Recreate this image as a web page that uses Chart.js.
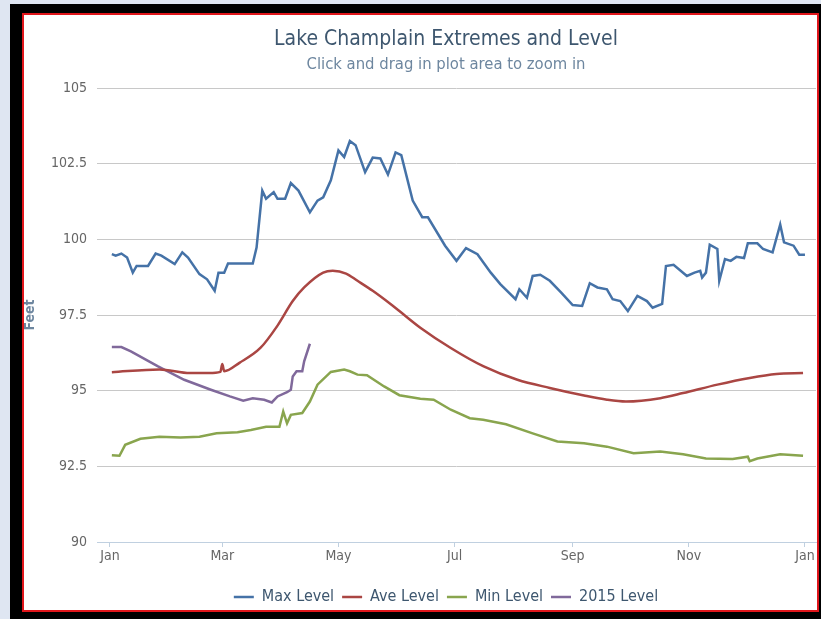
<!DOCTYPE html>
<html lang="en">
<head>
<meta charset="UTF-8">
<title>Lake Champlain Extremes and Level</title>
<style>
    body{
        margin: 0;
        background: #dfe6f2;
        width: 821px;
        height: 619px;
        overflow: hidden;
    }
    #frame{
        position: absolute;
        left: 10px; top: 4px;
        width: 811px; height: 615px;
        background: #000;
    }
    #box{
        position: absolute;
        left: 22px; top: 13px;
        width: 797px; height: 599px;
        box-sizing: border-box;
        border: 2px solid #e0161b;
        background: #fff;
    }
    #holder{
        position: absolute;
        left: 24px; top: 15px;
        width: 844px; height: 600px;
    }
</style>
</head>
<body>
<div id="frame"></div>
<div id="box"></div>
<div id="holder"><canvas id="lakeChart" width="844" height="600"></canvas></div>

<script src="https://cdn.jsdelivr.net/npm/chart.js"></script>
<script>
// day of year -> level (feet)
var maxDays = [1,3,6,9,12,14,20,24,27,34,38,41,47,51,55,57,60,62,75,77,80,82,86,88,92,95,99,105,109,112,116,120,123,126,129,134,138,142,146,150,153,159,164,167,176,182,187,193,200,205,213,215,219,222,226,231,237,243,248,252,256,261,264,268,272,277,282,285,290,292,296,303,307,310,311,313,315,319,320,323,326,329,333,335,340,343,348,352,354,359,362,365];
var maxVals = [99.51,99.46,99.53,99.40,98.90,99.12,99.12,99.53,99.46,99.18,99.57,99.40,98.85,98.68,98.30,98.90,98.90,99.20,99.20,99.73,101.61,101.34,101.56,101.34,101.34,101.86,101.61,100.89,101.28,101.39,101.95,102.94,102.72,103.25,103.11,102.22,102.70,102.67,102.14,102.87,102.78,101.28,100.73,100.73,99.79,99.29,99.71,99.51,98.90,98.52,98.02,98.35,98.07,98.79,98.83,98.63,98.24,97.83,97.80,98.55,98.41,98.35,98.02,97.96,97.63,98.13,97.96,97.74,97.87,99.12,99.16,98.79,98.90,98.96,98.74,98.90,99.82,99.68,98.63,99.35,99.29,99.42,99.38,99.87,99.87,99.68,99.57,100.49,99.90,99.79,99.49,99.49];

var aveDays = [1,26,42,52,58,59,60,68,79,88,96,102,112,117,124,130,138,147,152,163,179,196,214,231,249,261,271,289,301,319,336,350,364];
var aveVals = [95.61,95.70,95.58,95.58,95.62,95.88,95.64,95.92,96.41,97.15,97.96,98.41,98.90,98.96,98.87,98.63,98.30,97.88,97.63,97.08,96.41,95.81,95.36,95.09,94.84,94.70,94.64,94.75,94.92,95.20,95.42,95.55,95.58];

var minDays = [1,5,8,16,26,37,47,56,67,74,82,89,91,93,95,101,105,109,116,123,126,130,135,144,152,163,170,179,189,196,208,222,235,249,261,275,289,301,313,327,335,336,340,352,364];
var minVals = [92.87,92.85,93.21,93.41,93.48,93.45,93.48,93.59,93.63,93.70,93.81,93.81,94.31,93.92,94.20,94.26,94.64,95.20,95.62,95.70,95.64,95.53,95.51,95.14,94.85,94.73,94.70,94.37,94.09,94.04,93.89,93.59,93.32,93.26,93.15,92.93,92.99,92.90,92.76,92.74,92.82,92.67,92.76,92.90,92.85];

var curDays = [1,6,11,25,39,53,63,70,75,81,85,88,93,95,96,98,101,102,105];
var curVals = [96.44,96.44,96.30,95.81,95.36,95.03,94.81,94.67,94.75,94.70,94.61,94.81,94.95,95.03,95.47,95.64,95.64,95.97,96.55];

var monthDays = [0,59,120,181,243,304,365];
var monthLabels = ['Jan','Mar','May','Jul','Sep','Nov','Jan'];

var yTicks = [90,92.5,95,97.5,100,102.5,105];

var FONT = '"DejaVu Sans Condensed", "Liberation Sans Narrow", "DejaVu Sans", sans-serif';

function pts(days, vals){
    return days.map(function(d, i){ return {x: d, y: vals[i]}; });
}

function line(label, days, vals, color){
    return {
        label: label,
        data: pts(days, vals),
        borderColor: color,
        backgroundColor: color,
        borderWidth: 2.5,
        pointRadius: 0,
        tension: 0,
        fill: false
    };
}

var ave = line('Ave Level', aveDays, aveVals, '#AA4643');
ave.cubicInterpolationMode = 'monotone';

var ctx = document.getElementById('lakeChart').getContext('2d');
var lakeChart = new Chart(ctx, {
    type: 'line',
    data: {
        datasets: [
            line('Max Level', maxDays, maxVals, '#4572A7'),
            ave,
            line('Min Level', minDays, minVals, '#89A54E'),
            line('2015 Level', curDays, curVals, '#80699B')
        ]
    },
    options: {
        responsive: false,
        animation: false,
        devicePixelRatio: 1,
        layout: { padding: 0 },
        plugins: {
            title: {
                display: true,
                text: 'Lake Champlain Extremes and Level',
                color: '#3E576F',
                font: { family: FONT, size: 21, weight: 'normal' },
                padding: { top: 12, bottom: 0 }
            },
            subtitle: {
                display: true,
                text: 'Click and drag in plot area to zoom in',
                color: '#6D869F',
                font: { family: FONT, size: 16.5 },
                padding: { top: 3, bottom: 13 }
            },
            legend: {
                position: 'bottom',
                labels: {
                    usePointStyle: true,
                    pointStyle: 'line',
                    pointStyleWidth: 20,
                    color: '#3E576F',
                    padding: 8,
                    font: { family: FONT, size: 16 }
                }
            },
            tooltip: { enabled: false }
        },
        scales: {
            x: {
                type: 'linear',
                min: -6.8,
                max: 370.8,
                afterBuildTicks: function(scale){
                    scale.ticks = monthDays.map(function(v){ return {value: v}; });
                },
                afterFit: function(scale){ scale.height = 39; },
                grid: {
                    drawOnChartArea: false,
                    drawTicks: true,
                    tickLength: 5,
                    color: '#C0D0E0'
                },
                border: { color: '#C0D0E0', width: 1 },
                ticks: {
                    autoSkip: false,
                    maxRotation: 0,
                    padding: 1,
                    color: '#666',
                    font: { family: FONT, size: 14 },
                    callback: function(v){
                        var i = monthDays.indexOf(v);
                        return i < 0 ? '' : monthLabels[i];
                    }
                }
            },
            y: {
                min: 90,
                max: 105,
                afterBuildTicks: function(scale){
                    scale.ticks = yTicks.map(function(v){ return {value: v}; });
                },
                afterFit: function(scale){ scale.width = 73; },
                grid: {
                    drawTicks: false,
                    color: function(c){ return c.tick && c.tick.value === 90 ? 'rgba(0,0,0,0)' : '#C8C8C8'; }
                },
                border: { display: false },
                ticks: {
                    padding: 10,
                    color: '#666',
                    font: { family: FONT, size: 14 },
                    callback: function(v){ return String(v); }
                },
                title: {
                    display: true,
                    text: 'Feet',
                    color: '#6D869F',
                    padding: { top: 0, bottom: 0 },
                    font: { family: FONT, size: 14, weight: 'bold', lineHeight: 0.85 }
                }
            },
            // empty right-hand axis: only keeps room so title/legend centre like the original
            yRight: {
                position: 'right',
                display: true,
                afterFit: function(scale){ scale.width = 52; },
                grid: { display: false },
                border: { display: false },
                ticks: { display: false }
            }
        }
    }
});
</script>
</body>
</html>
